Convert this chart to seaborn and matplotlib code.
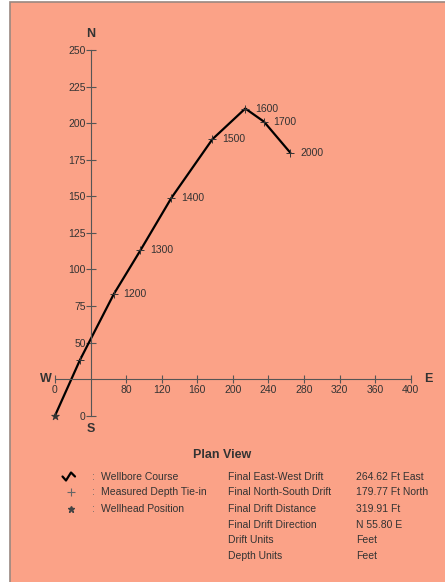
import matplotlib
matplotlib.use("Agg")
import matplotlib.pyplot as plt
from matplotlib.patches import Rectangle
from matplotlib.lines import Line2D
import seaborn as sns
import pandas as pd

# wellbore plan view data (feet)
east = [0, 28, 66, 96, 131, 177, 214, 235, 264.62]
north = [0, 38, 83, 113, 149, 189, 210, 201, 179.77]
md_labels = ["", "", "1200", "1300", "1400", "1500", "1600", "1700", "2000"]

x_ticks = [0, 80, 120, 160, 200, 240, 280, 320, 360, 400]
y_ticks = [0, 50, 75, 100, 125, 150, 175, 200, 225, 250]

legend_items = ["Wellbore Course", "Measured Depth Tie-in", "Wellhead Position"]
summary_names = ["Final East-West Drift", "Final North-South Drift", "Final Drift Distance",
                 "Final Drift Direction", "Drift Units", "Depth Units"]
summary_values = ["264.62 Ft East", "179.77 Ft North", "319.91 Ft",
                  "N 55.80 E", "Feet", "Feet"]

bg = "#FBA287"
txt = "#333333"

sns.set_style("ticks")
plt.rcParams['font.family'] = ['Liberation Sans', 'DejaVu Sans']

fig = plt.figure(figsize=(4.45, 5.82), dpi=100)
fig.patch.set_facecolor("white")
fig.add_artist(Rectangle((10 / 445, -0.01), 1.0, 1 - 2 / 582 + 0.01, transform=fig.transFigure,
                         facecolor=bg, edgecolor="#9a8880", lw=1.2, zorder=0))

ax = fig.add_axes([55 / 445, 1 - 415.7 / 582, (410.7 - 55) / 445, (415.7 - 50) / 582])
ax.set_facecolor("none")

df = pd.DataFrame({"east": east, "north": north, "md": md_labels})
sns.lineplot(data=df, x="east", y="north", sort=False, color="black", lw=1.6, ax=ax, clip_on=False)
sns.scatterplot(data=df.iloc[1:], x="east", y="north", marker="+", s=35, color="#333333",
                linewidth=0.7, ax=ax, clip_on=False, zorder=3)
sns.scatterplot(data=df.iloc[:1], x="east", y="north", marker="*", s=35, color="#333333",
                edgecolor="#333333", linewidth=0.5, ax=ax, clip_on=False, zorder=3)

for e, n, lab in zip(east, north, md_labels):
    if lab:
        ax.annotate(lab, (e, n), xytext=(7, 0), textcoords="offset points",
                    va="center", ha="left", fontsize=7.5, color=txt)

ax.set_xlim(0, 400)
ax.set_ylim(0, 250)
ax.spines["left"].set_position(("data", 40))
ax.spines["bottom"].set_position(("data", 25))
ax.spines["top"].set_visible(False)
ax.spines["right"].set_visible(False)
for s in ("left", "bottom"):
    ax.spines[s].set_color("#555555")
    ax.spines[s].set_linewidth(0.8)
ax.set_xticks(x_ticks)
ax.set_yticks(y_ticks)
ax.set_xticklabels([str(v) for v in x_ticks])
ax.set_yticklabels([str(v) for v in y_ticks])
ax.tick_params(axis="x", bottom=True, direction="inout", length=6, width=0.8, color="#555555",
               labelsize=7.5, labelcolor=txt, pad=1)
ax.tick_params(axis="y", left=True, direction="inout", length=7, width=0.8, color="#555555",
               labelsize=7.5, labelcolor=txt, pad=0)
ax.set_xlabel("")
ax.set_ylabel("")

# compass letters
ax.annotate("N", (40, 250), xytext=(0, 7), textcoords="offset points", ha="center",
            va="bottom", fontsize=9, fontweight="bold", color=txt, annotation_clip=False)
ax.annotate("S", (40, 0), xytext=(0, -5), textcoords="offset points", ha="center",
            va="top", fontsize=9, fontweight="bold", color=txt, annotation_clip=False)
ax.annotate("W", (0, 25), xytext=(-2, 0), textcoords="offset points", ha="right",
            va="center", fontsize=9, fontweight="bold", color=txt, annotation_clip=False)
ax.annotate("E", (400, 25), xytext=(10, 0), textcoords="offset points", ha="left",
            va="center", fontsize=9, fontweight="bold", color=txt, annotation_clip=False)

# legend / summary block
def fy(py):
    return 1 - py / 582

fig.text(222 / 445, fy(455), "Plan View", ha="center", va="center", fontsize=9,
         fontweight="bold", color=txt)
row_y = [476.7, 492.3, 508.5, 524.5, 540, 555.7]
for i, item in enumerate(legend_items):
    fig.text(92 / 445, fy(row_y[i]), ":", ha="left", va="center", fontsize=7.5, color="#666666")
    fig.text(101 / 445, fy(row_y[i]), item, ha="left", va="center", fontsize=7.5, color=txt)
for i, (nm, val) in enumerate(zip(summary_names, summary_values)):
    fig.text(228 / 445, fy(row_y[i]), nm, ha="left", va="center", fontsize=7.5, color=txt)
    fig.text(356 / 445, fy(row_y[i]), val, ha="left", va="center", fontsize=7.5, color=txt)

fig.add_artist(Line2D([62.5 / 445, 66 / 445, 71 / 445, 75 / 445],
                      [fy(476.5), fy(480.5), fy(472.5), fy(476.5)], transform=fig.transFigure,
                      color="black", lw=1.6))
fig.add_artist(Line2D([71 / 445], [fy(492.3)], transform=fig.transFigure, marker="+",
                      markersize=6, color="#666666", mew=0.8, ls="none"))
fig.add_artist(Line2D([71 / 445], [fy(508.5)], transform=fig.transFigure, marker="*",
                      markersize=5, color="#444444", ls="none"))

fig.savefig("out.png", dpi=100, facecolor=fig.get_facecolor())
